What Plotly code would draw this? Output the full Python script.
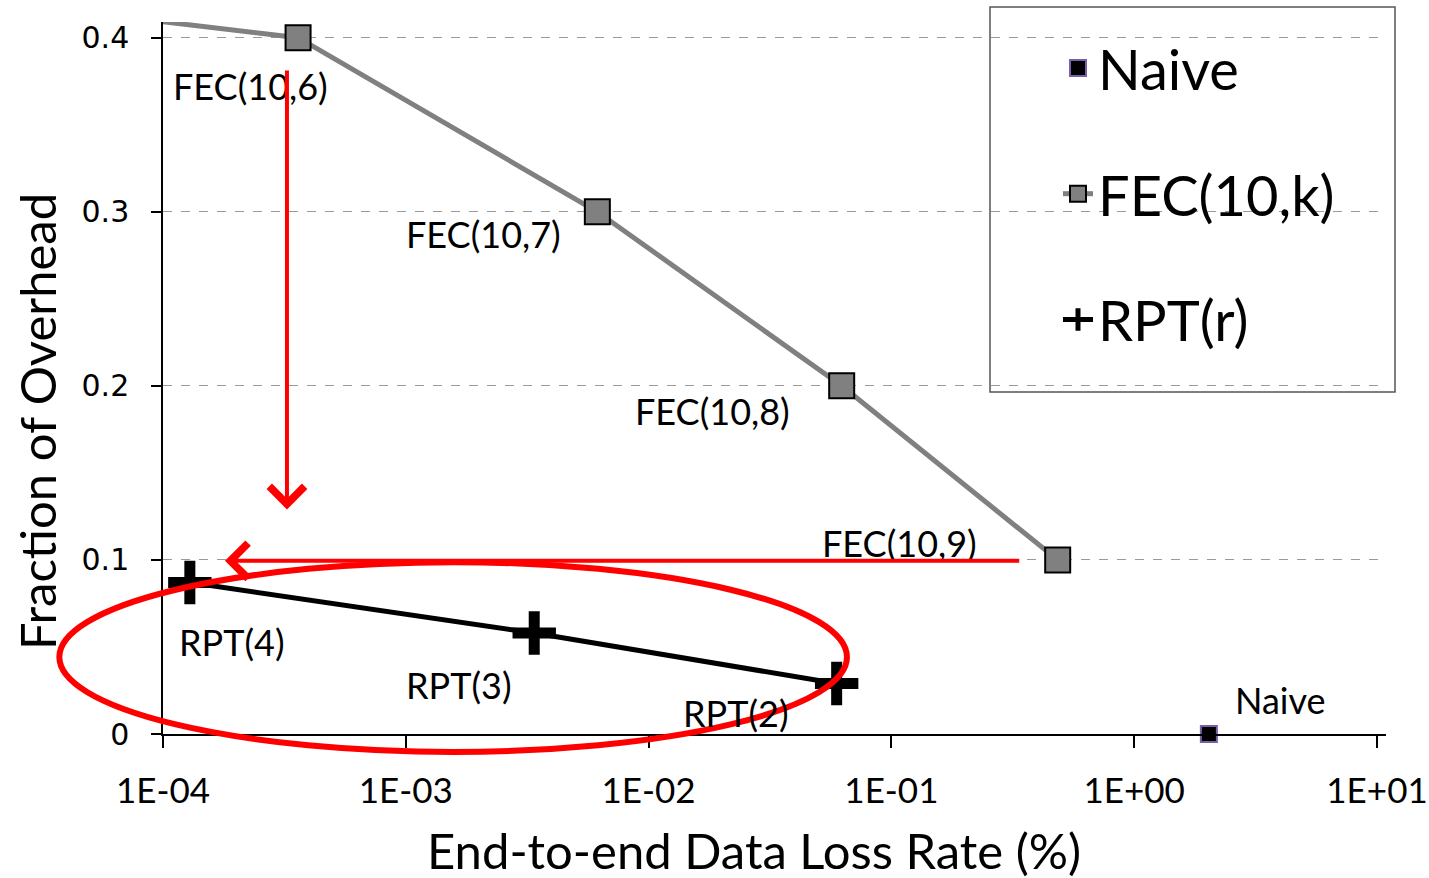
import numpy as np
import plotly.graph_objects as go

# ---------------- data ----------------
fec_labels = ["FEC(10,5)", "FEC(10,6)", "FEC(10,7)", "FEC(10,8)", "FEC(10,9)"]
fec_loss = [3.0e-10, 3.6e-4, 6.15e-3, 6.24e-2, 4.84e-1]
fec_overhead = [0.5, 0.4, 0.3, 0.2, 0.1]

rpt_labels = ["RPT(4)", "RPT(3)", "RPT(2)"]
rpt_loss = [1.29e-4, 3.38e-3, 5.95e-2]
rpt_overhead = [0.087, 0.058, 0.029]

naive_labels = ["Naive"]
naive_loss = [2.03]
naive_overhead = [0.0]

x_tickvals = [1e-4, 1e-3, 1e-2, 1e-1, 1e0, 1e1]
x_ticktext = ["1E-04", "1E-03", "1E-02", "1E-01", "1E+00", "1E+01"]
y_tickvals = [0, 0.1, 0.2, 0.3, 0.4]
y_ticktext = ["0", "0.1", "0.2", "0.3", "0.4"]

# ---------------- layout geometry ----------------
W, H = 1429, 878
ML, MR, MT, MB = 163, 43, 22, 144
X_RANGE = [-4, 1.037]   # log10 units
Y_RANGE = [0, 0.409]

def paper_x(px):
    return (px - ML) / (W - ML - MR)

def paper_y(py):
    return (H - MB - py) / (H - MT - MB)

def data_to_paper_x(logx):
    return (logx - X_RANGE[0]) / (X_RANGE[1] - X_RANGE[0])

def data_to_paper_y(y):
    return (y - Y_RANGE[0]) / (Y_RANGE[1] - Y_RANGE[0])

FONT = "Lato, 'Open Sans', sans-serif"
LABEL_SIZE = 36

fig = go.Figure()

fig.add_trace(go.Scatter(
    x=naive_loss, y=naive_overhead, mode="markers", name="Naive",
    legendgroup="a",
    marker=dict(symbol="square", size=16, color="black",
                line=dict(color="#7a5fa8", width=2)),
    cliponaxis=False,
))
fig.add_trace(go.Scatter(
    x=fec_loss, y=fec_overhead, mode="lines+markers", name="FEC(10,k)",
    legendgroup="b",
    line=dict(color="#808080", width=5),
    marker=dict(symbol="square", size=25, color="#808080",
                line=dict(color="black", width=2)),
))
fig.add_trace(go.Scatter(
    x=rpt_loss, y=rpt_overhead, mode="lines+markers", name="RPT(r)",
    legendgroup="c",
    line=dict(color="black", width=5),
    marker=dict(symbol="cross-thin", size=31, color="black",
                line=dict(color="black", width=11)),
    cliponaxis=False,
))

# ---------------- point labels ----------------
label_offsets = {
    "FEC(10,6)": (-48, -48),
    "FEC(10,7)": (-114, -22),
    "FEC(10,8)": (-129, -25),
    "FEC(10,9)": (-158, 17),
    "RPT(4)": (42, -59),
    "RPT(3)": (-75, -52),
    "RPT(2)": (-101, -29),
    "Naive": (72, 34),
}
annotations = []
for labels, xs, ys in [(fec_labels, fec_loss, fec_overhead),
                       (rpt_labels, rpt_loss, rpt_overhead),
                       (naive_labels, naive_loss, naive_overhead)]:
    for lab, xv, yv in zip(labels, xs, ys):
        if lab not in label_offsets:
            continue
        dx, dy = label_offsets[lab]
        annotations.append(dict(
            x=np.log10(xv), y=yv, xref="x", yref="y", text=lab,
            showarrow=False, xshift=dx, yshift=dy,
            font=dict(family=FONT, size=LABEL_SIZE, color="black"),
        ))

# red arrows (tip at x,y; tail at ax,ay), data units
arrows = [
    dict(tip=(3.24e-4, 0.129), tail=(3.24e-4, 0.382)),
    dict(tip=(1.8e-4, 0.0995), tail=(0.341, 0.0995)),
]
for a in arrows:
    annotations.append(dict(
        x=np.log10(a["tip"][0]), y=a["tip"][1], xref="x", yref="y",
        ax=np.log10(a["tail"][0]), ay=a["tail"][1], axref="x", ayref="y",
        text="", showarrow=True, arrowhead=4, arrowsize=1.7,
        arrowwidth=4, arrowcolor="#ff0000",
    ))

# axis titles
annotations.append(dict(
    x=paper_x(754), y=paper_y(850), xref="paper", yref="paper",
    text="End-to-end Data Loss Rate (%)", showarrow=False,
    xanchor="center", yanchor="middle",
    font=dict(family=FONT, size=49, color="black"),
))
annotations.append(dict(
    x=paper_x(37), y=paper_y(422), xref="paper", yref="paper",
    text="Fraction of Overhead", showarrow=False, textangle=-90,
    xanchor="center", yanchor="middle",
    font=dict(family=FONT, size=49, color="black"),
))

# ellipse highlight (data units -> paper)
ell_center_logx, ell_center_y = -2.805, 0.0442
ell_half_decades, ell_half_y = 1.622, 0.0545
shapes = [
    dict(type="rect", xref="paper", yref="paper",
         x0=paper_x(990), x1=paper_x(1395), y0=paper_y(392), y1=paper_y(7),
         line=dict(color="#555555", width=1.5), fillcolor="white",
         layer="between"),
    dict(type="circle", xref="paper", yref="paper",
         x0=data_to_paper_x(ell_center_logx - ell_half_decades),
         x1=data_to_paper_x(ell_center_logx + ell_half_decades),
         y0=data_to_paper_y(ell_center_y - ell_half_y),
         y1=data_to_paper_y(ell_center_y + ell_half_y),
         line=dict(color="#ff0000", width=6), layer="above"),
]

fig.update_layout(
    width=W, height=H, autosize=False,
    margin=dict(l=ML, r=MR, t=MT, b=MB, pad=0, autoexpand=False),
    paper_bgcolor="white", plot_bgcolor="white",
    font=dict(family=FONT, color="black"),
    showlegend=True,
    legend=dict(
        x=paper_x(1058), y=paper_y(25), xanchor="left", yanchor="top",
        bgcolor="rgba(0,0,0,0)", borderwidth=0,
        font=dict(family=FONT, size=56, color="black"),
        traceorder="grouped", tracegroupgap=50,
    ),
    annotations=annotations,
    shapes=shapes,
)

fig.update_xaxes(
    type="log", range=X_RANGE,
    tickvals=x_tickvals, ticktext=x_ticktext,
    showline=True, linecolor="black", linewidth=1.5,
    ticks="outside", ticklen=12, tickwidth=1.5, tickcolor="black",
    showgrid=False, zeroline=False,
    tickfont=dict(family=FONT, size=35, color="black"),
    ticklabelstandoff=13,
)
fig.update_yaxes(
    range=Y_RANGE,
    tickvals=y_tickvals, ticktext=y_ticktext,
    showline=True, linecolor="black", linewidth=1.5,
    ticks="outside", ticklen=10, tickwidth=1.5, tickcolor="black",
    showgrid=True, gridcolor="#9a9a9a", gridwidth=1, griddash="dash",
    zeroline=False,
    tickfont=dict(family="DejaVu Sans", size=30, color="black"),
    ticklabelstandoff=16,
)

fig.write_html(
    "out.html",
    config={"responsive": False, "displayModeBar": False},
    post_script="document.body.style.margin='0';document.body.style.overflow='hidden';",
)
